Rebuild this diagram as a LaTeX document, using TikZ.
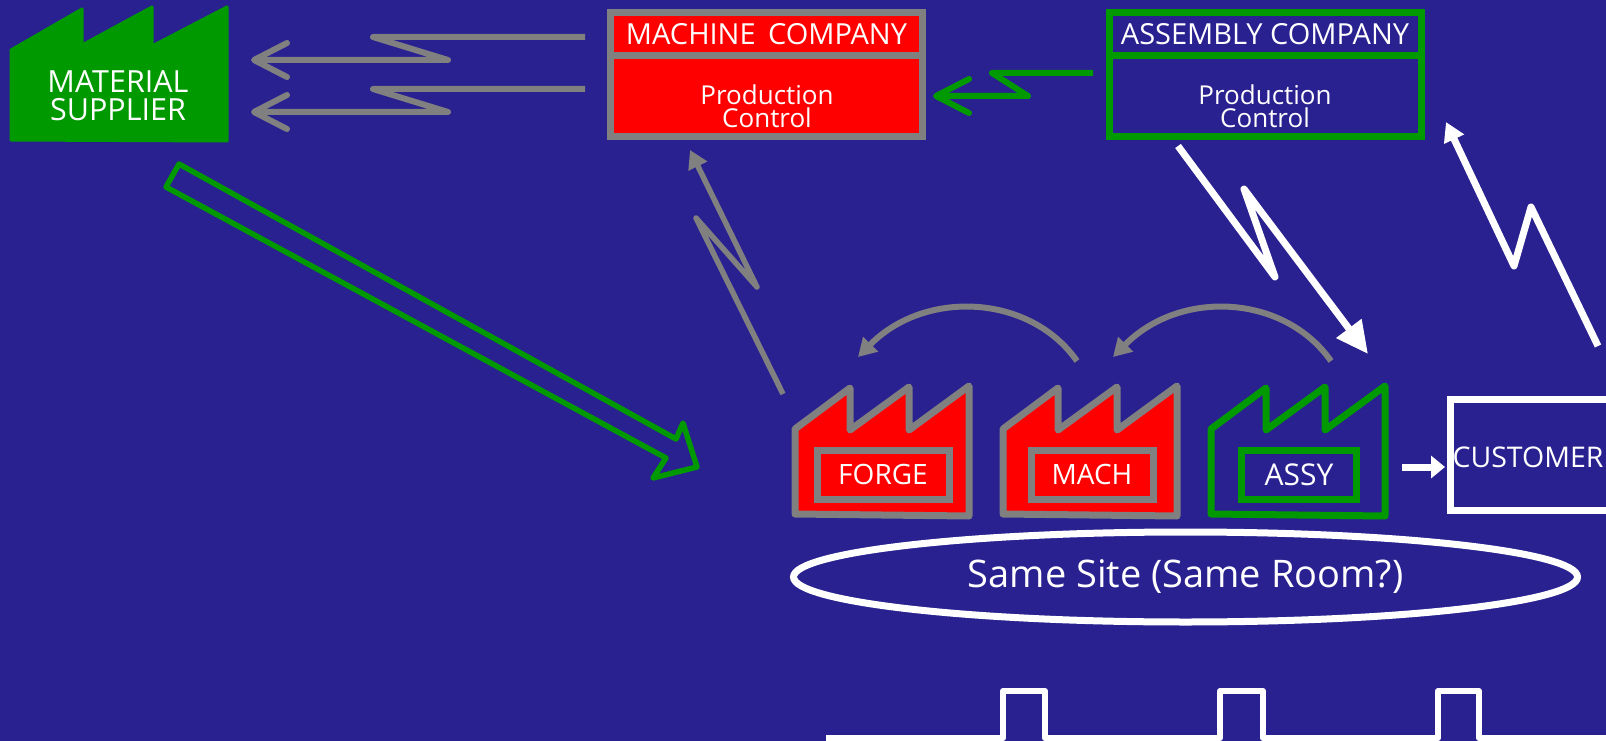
\documentclass[tikz,border=0pt]{standalone}
\usepackage{fontspec}
\setmainfont{Open Sans}
\usetikzlibrary{arrows.meta,shapes.geometric}
\definecolor{slidebg}{HTML}{2A2190}
\definecolor{leangreen}{HTML}{009900}
\definecolor{leangrey}{HTML}{808080}
\tikzset{
  lbl/.style={text=white,inner sep=0pt,align=center,font=\fontsize{26}{23}\selectfont},
  title/.style={font=\fontsize{29}{29}\selectfont},
  greybolt/.style={leangrey,line width=6pt,line join=round,-{Straight Barb[length=33pt,width=34pt,round]}},
  greenbolt/.style={greybolt,leangreen},
  whitebolt/.style={white,line width=7pt,line join=round,-{Triangle[length=32pt,width=30pt]}},
  replybolt/.style={white,line width=7pt,line join=round,-{Triangle[length=19pt,width=21pt]}},
  sendbolt/.style={white,line width=7pt,line join=round,-{Triangle[length=14pt,width=22pt]}},
  signalbolt/.style={leangrey,line width=5.5pt,line join=round,-{Triangle[length=18pt,width=20pt]}},
  kanban/.style={signalbolt,line width=6pt},
  shopbox/.style={lbl,draw=#1,line width=7pt,minimum width=132pt,minimum height=49pt,font=\fontsize{28}{28}\selectfont},
  firm/.style={lbl,line width=7pt,draw=#1,minimum width=312pt},
  plant/.style={line width=7pt,line join=round},
}
\begin{document}
\begin{tikzpicture}[x=1pt,y=-1pt]
  \useasboundingbox (0,0) rectangle (1606,741);
  \clip (0,0) rectangle (1606,741);
  \fill[slidebg] (0,0) rectangle (1606,741);
  % free ends of the connectors
  \coordinate (mchout1) at (585,37);
  \coordinate (mchout2) at (585,89);
  \coordinate (matin1) at (251,60);
  \coordinate (matin2) at (251,112);
  \coordinate (asyout) at (1093,73);
  \coordinate (mchin) at (933,96);
  \coordinate (forgeout) at (783,394);
  \coordinate (mchup) at (690,150);
  \coordinate (asydown) at (1178,146);
  \coordinate (asyin) at (1368,354);
  \coordinate (custup) at (1598,346);
  \coordinate (asyup) at (1446,122);
  \coordinate (machleft) at (1077,361);
  \coordinate (forgein) at (858,357);
  \coordinate (assyleft) at (1331,361);
  \coordinate (machin) at (1113,357);
  \coordinate (sendstart) at (1402,467);
  \coordinate (sendend) at (1445,467);
  % supplier
  \draw[leangreen,fill=leangreen,line width=3pt,line join=round]
    (11,50) -- (82,9) -- (82,45) -- (152,7) -- (152,46) -- (227,7) -- (227,141) -- (11,140) -- cycle;
  \node[lbl,font=\fontsize{30.5}{28}\selectfont] (material) at (118,96) {MATERIAL\\SUPPLIER};
  % companies
  \node[firm=leangrey,fill=red,minimum height=43pt,title] (mchtitle) at (766.5,34) {MACHINE\, COMPANY};
  \node[firm=leangrey,fill=red,minimum height=81pt] (mchctrl) at (766.5,96) {};
  \node[lbl] (mchtext) at (767,106) {Production\\Control};
  \node[firm=leangreen,minimum height=43pt,title] (asytitle) at (1265,34) {ASSEMBLY COMPANY};
  \node[firm=leangreen,minimum height=81pt] (asyctrl) at (1265,96) {};
  \node[lbl] (asytext) at (1265,106) {Production\\Control};
  % factories
  \draw[plant,leangrey,fill=red]
    (795,429) -- (850,388) -- (850,430) -- (909,387) -- (909,430) -- (969,386) -- (969,516) -- (795,514) -- cycle;
  \draw[plant,leangrey,fill=red]
    (1003,429) -- (1058,388) -- (1058,430) -- (1117,387) -- (1117,430) -- (1177,386) -- (1177,516) -- (1003,514) -- cycle;
  \draw[plant,leangreen]
    (1211,429) -- (1266,388) -- (1266,430) -- (1325,387) -- (1325,430) -- (1385,386) -- (1385,516) -- (1211,514) -- cycle;
  \node[shopbox=leangrey,fill=red] (forge) at (883,474.5) {FORGE};
  \node[shopbox=leangrey,fill=red,minimum width=122pt] (mach) at (1092,474.5) {MACH};
  \node[shopbox=leangreen,minimum width=115pt,font=\fontsize{30}{30}\selectfont] (assy) at (1299,474.5) {ASSY};
  % customer
  \node[lbl,draw=white,line width=7pt,minimum width=200pt,minimum height=111pt] (custbox) at (1550,455) {};
  \node[lbl,font=\fontsize{28.5}{28.5}\selectfont] (customer) at (1528,457) {CUSTOMER};
  % same site
  \node[lbl,ellipse,draw=white,line width=7pt,minimum width=784pt,minimum height=90pt,font=\fontsize{38}{38}\selectfont] (site) at (1185.5,577) {\raisebox{-2pt}{Same Site (Same Room?)}};
  % information flows
  \draw[greybolt] (mchout1) -- (373,37) -- (448,60) -- (matin1);
  \draw[greybolt] (mchout2) -- (373,89) -- (448,112) -- (matin2);
  \draw[greenbolt] (asyout) -- (992,73) -- (1028,96) -- (mchin);
  \draw[signalbolt] (forgeout) -- (696,218) -- (757,287) -- (mchup);
  \draw[whitebolt] (asydown) -- (1275,277) -- (1244,189) -- (asyin);
  \draw[replybolt] (custup) -- (1531,207) -- (1514,266) -- (asyup);
  % kanban loops
  \draw[kanban] (machleft) .. controls (1030,294) and (925,289) .. (forgein);
  \draw[kanban] (assyleft) .. controls (1284,294) and (1180,289) .. (machin);
  \draw[sendbolt] (sendstart) -- (sendend);
  % material flow
  \draw[leangreen,line width=5.5pt,line join=round]
    (179,164) -- (676,439) -- (683,423) -- (697,467) -- (653,478) -- (666,458) -- (166,187) -- cycle;
  % timeline
  \draw[white,line width=6pt,line join=round]
    (826,738) -- (1003,738) -- (1003,691) -- (1045,691) -- (1045,738) -- (1220,738) -- (1220,691) -- (1263,691)
    -- (1263,738) -- (1438,738) -- (1438,691) -- (1479,691) -- (1479,738) -- (1606,738);
\end{tikzpicture}
\end{document}
